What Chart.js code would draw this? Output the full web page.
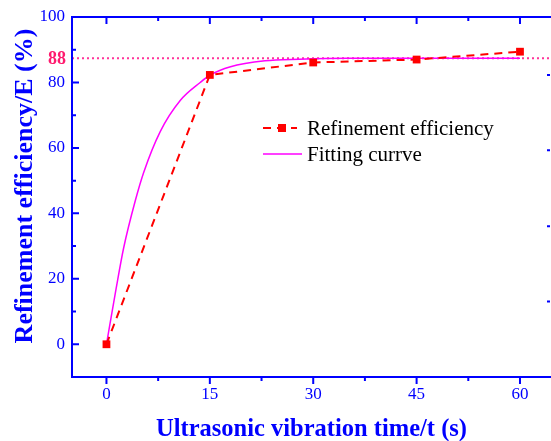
<!DOCTYPE html>
<html>
<head>
<meta charset="utf-8">
<script src="https://cdn.jsdelivr.net/npm/chart.js@4/dist/chart.umd.min.js"></script>
<style>
  html, body { margin: 0; padding: 0; background: #fff; }
</style>
</head>
<body>
<canvas id="chart" width="551" height="441"></canvas>
<script>
// measured points
const times = [0, 15, 30, 45, 60];
const efficiency = [0, 82.3, 86.1, 87.0, 89.4];

// fitting curve
const fitTimes = [0, 1.4, 2.5, 4.2, 5.4, 7.8, 10.7, 13.6, 15, 18, 23, 28, 35, 45, 60];
const fitValues = [0, 17, 29.5, 44, 52.5, 65, 74.5, 80, 82.2, 84.8, 86.6, 87.1, 87.4, 87.4, 87.4];

// reference line (plateau)
const plateauValue = 87.4;
const plateauLabel = '88';

// axes
const xTicks = [0, 15, 30, 45, 60];
const xMinorTicks = [7.5, 22.5, 37.5, 52.5];
const yTicks = [0, 20, 40, 60, 80, 100];
const yMinorTicks = [10, 30, 50, 70, 90];
const rightTicks = [13.1, 36.1, 59.3, 82.3];
const yTitle = 'Refinement efficiency/E (%)';

const BLUE = '#0000ff';
const SERIF = '"Liberation Serif", "Times New Roman", serif';

const framePlugin = {
    id: 'frame',
    beforeDatasetsDraw(chart) {
        const { ctx, chartArea: a, scales } = chart;
        const y = scales.y.getPixelForValue(plateauValue);
        ctx.save();
        ctx.strokeStyle = '#ff3399';
        ctx.lineWidth = 2;
        ctx.setLineDash([2, 3]);
        ctx.beginPath();
        ctx.moveTo(a.left, y);
        ctx.lineTo(a.right, y);
        ctx.stroke();
        ctx.restore();
    },
    afterDraw(chart) {
        const { ctx, chartArea: a, scales } = chart;
        const xs = scales.x, ys = scales.y;
        const L = a.left, R = a.right + 1, T = a.top, B = a.bottom;
        ctx.save();
        ctx.strokeStyle = BLUE;
        ctx.lineWidth = 2;
        ctx.setLineDash([]);
        ctx.strokeRect(L, T, R - L, B - T);

        ctx.beginPath();
        const tick = (x1, y1, x2, y2) => { ctx.moveTo(x1, y1); ctx.lineTo(x2, y2); };
        xTicks.forEach(v => {
            const px = xs.getPixelForValue(v);
            tick(px, B, px, B + 7);
            tick(px, T, px, T + 7);
        });
        xMinorTicks.forEach(v => {
            const px = xs.getPixelForValue(v);
            tick(px, B, px, B + 4);
            tick(px, T, px, T + 4);
        });
        yTicks.forEach(v => {
            const py = ys.getPixelForValue(v);
            tick(L, py, L + 7, py);
        });
        yMinorTicks.forEach(v => {
            const py = ys.getPixelForValue(v);
            tick(L, py, L + 4, py);
        });
        rightTicks.forEach(v => {
            const py = ys.getPixelForValue(v);
            tick(a.right - 1, py, a.right - 4, py);
        });
        ctx.stroke();

        // y axis title
        ctx.save();
        ctx.translate(25, 186);
        ctx.rotate(-Math.PI / 2);
        ctx.fillStyle = BLUE;
        ctx.font = 'bold 26px ' + SERIF;
        ctx.textAlign = 'center';
        ctx.textBaseline = 'middle';
        ctx.fillText(yTitle, 0, 0);
        ctx.restore();

        // plateau label
        ctx.fillStyle = '#ff1a6e';
        ctx.font = 'bold 18px ' + SERIF;
        ctx.textAlign = 'right';
        ctx.textBaseline = 'middle';
        ctx.fillText(plateauLabel, L - 6, ys.getPixelForValue(plateauValue) + 1);

        // legend
        const ds = chart.data.datasets;
        const lx = 263, tx = 307;
        const rows = [128, 154];
        ctx.textAlign = 'left';
        ctx.font = '21px ' + SERIF;

        ctx.strokeStyle = ds[0].borderColor;
        ctx.lineWidth = 2;
        ctx.setLineDash([8, 6]);
        ctx.beginPath();
        ctx.moveTo(lx, rows[0]);
        ctx.lineTo(lx + 34, rows[0]);
        ctx.stroke();
        ctx.setLineDash([]);
        ctx.fillStyle = ds[0].borderColor;
        ctx.fillRect(lx + 15, rows[0] - 4, 8, 8);

        ctx.strokeStyle = ds[1].borderColor;
        ctx.lineWidth = 1.5;
        ctx.beginPath();
        ctx.moveTo(lx, rows[1]);
        ctx.lineTo(lx + 39, rows[1]);
        ctx.stroke();

        ctx.fillStyle = '#000';
        ds.forEach((d, i) => ctx.fillText(d.label, tx, rows[i] + 1));
        ctx.restore();
    }
};

new Chart(document.getElementById('chart'), {
    type: 'line',
    data: {
        datasets: [
            {
                label: 'Refinement efficiency',
                data: times.map((t, i) => ({ x: t, y: efficiency[i] })),
                borderColor: '#ff0000',
                backgroundColor: '#ff0000',
                borderWidth: 2,
                borderDash: [8, 6],
                pointStyle: 'rect',
                pointRadius: 5.5,
                pointBorderWidth: 0,
                tension: 0
            },
            {
                label: 'Fitting currve',
                data: fitTimes.map((t, i) => ({ x: t, y: fitValues[i] })),
                borderColor: '#ff00ff',
                borderWidth: 1.5,
                pointRadius: 0,
                cubicInterpolationMode: 'monotone'
            }
        ]
    },
    options: {
        responsive: false,
        animation: false,
        layout: { autoPadding: false, padding: { top: 17, right: 0, left: 0, bottom: 0 } },
        plugins: {
            legend: { display: false },
            tooltip: { enabled: false }
        },
        scales: {
            x: {
                type: 'linear',
                min: -5,
                max: 64.5,
                afterBuildTicks: s => { s.ticks = xTicks.map(v => ({ value: v })); },
                afterFit: s => { s.height = 64; s.paddingRight = 0; s.paddingLeft = 0; },
                grid: { display: false, drawTicks: false },
                border: { display: false },
                ticks: {
                    color: BLUE,
                    padding: 7,
                    font: { family: SERIF, size: 17 }
                },
                title: {
                    display: true,
                    text: 'Ultrasonic vibration time/t (s)',
                    color: BLUE,
                    font: { family: SERIF, size: 24.5, weight: 'bold' },
                    padding: { top: 4, bottom: -3 }
                }
            },
            y: {
                min: -10,
                max: 100,
                afterBuildTicks: s => { s.ticks = yTicks.map(v => ({ value: v })); },
                afterFit: s => { s.width = 72; s.paddingTop = 0; s.paddingBottom = 0; },
                grid: { display: false, drawTicks: false },
                border: { display: false },
                ticks: {
                    color: BLUE,
                    padding: 7,
                    font: { family: SERIF, size: 17 }
                }
            }
        }
    },
    plugins: [framePlugin]
});
</script>
</body>
</html>
